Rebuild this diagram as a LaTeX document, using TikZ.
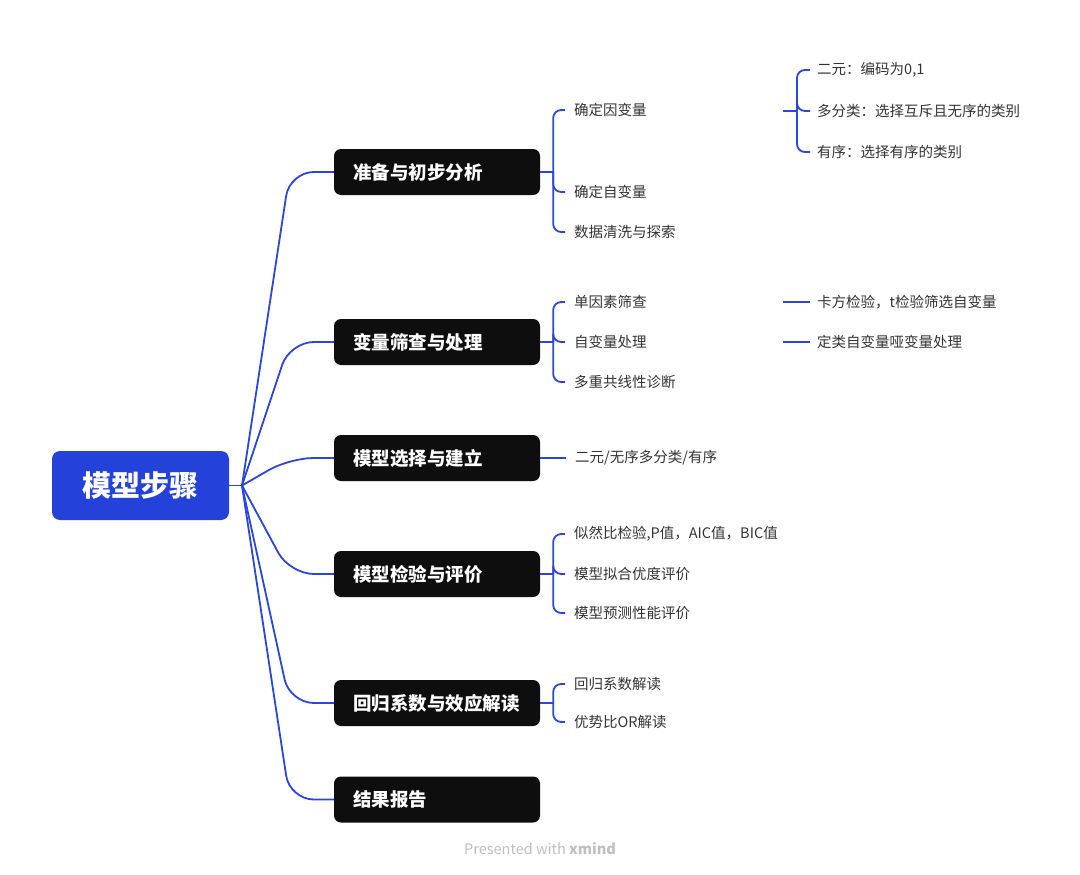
\documentclass[tikz,border=0pt]{standalone}
\usepackage{fontspec}
\setmainfont{Noto Sans CJK SC}
\usepackage{xcolor}
\usetikzlibrary{arrows.meta}
\definecolor{linkblue}{HTML}{2B46DA}
\definecolor{rootblue}{HTML}{2441D9}
\definecolor{topicblack}{HTML}{0E0E0E}
\definecolor{subgray}{HTML}{333333}

\begin{document}
\begin{tikzpicture}[x=1pt,y=-1pt,
	link/.style={draw=linkblue,line width=1.8pt},
	rootbox/.style={fill=rootblue,rounded corners=8pt,minimum width=177pt,minimum height=69pt,text=white,font=\fontsize{29}{32}\selectfont\bfseries},
	topic/.style={fill=topicblack,rounded corners=7pt,minimum width=206pt,minimum height=46pt,inner xsep=19pt,inner ysep=0pt,text width=168pt,align=left,text=white,font=\fontsize{18.5}{21}\selectfont\bfseries},
	sub/.style={anchor=west,inner xsep=9pt,inner ysep=2pt,text=subgray,font=\fontsize{14.5}{17}\selectfont},
	subsub/.style={sub,inner xsep=7pt}]
	\useasboundingbox (0,0) rectangle (1080,875);
	
	\node[rootbox] (root) at (140.5,485.5){模型步骤};
	\coordinate (hub) at (242,485.5);
	
	\node[topic] (prep) at (437,172){准备与初步分析};
	\node[topic] (screen) at (437,342){变量筛查与处理};
	\node[topic] (select) at (437,458){模型选择与建立};
	\node[topic] (check) at (437,574){模型检验与评价};
	\node[topic] (coef) at (437,703){回归系数与效应解读};
	\node[topic] (report) at (437,799.5){结果报告};
	
	\node[sub] (dv) at (565,110){确定因变量};
	\node[sub] (iv) at (565,192){确定自变量};
	\node[sub] (clean) at (565,232){数据清洗与探索};
	\node[subsub] (bin) at (810,70){二元：编码为0,1};
	\node[subsub] (multi) at (810,111){多分类：选择互斥且无序的类别};
	\node[subsub] (ord) at (810,152){有序：选择有序的类别};
	
	\node[sub] (uni) at (565,302){单因素筛查};
	\node[sub] (ivproc) at (565,342){自变量处理};
	\node[sub] (vif) at (565,382){多重共线性诊断};
	\node[subsub] (chi) at (810,302){卡方检验，t检验筛选自变量};
	\node[subsub] (dummy) at (810,342){定类自变量哑变量处理};
	
	\node[sub] (type) at (566,458){二元/无序多分类/有序};
	
	\node[sub] (lr) at (565,534){似然比检验,P值，AIC值，BIC值};
	\node[sub] (fit) at (565,574){模型拟合优度评价};
	\node[sub] (pred) at (565,613){模型预测性能评价};
	
	\node[sub] (beta) at (565,684){回归系数解读};
	\node[sub] (or) at (565,722){优势比OR解读};
	
	\node[text=black!25,font=\fontsize{14.5}{16}\selectfont] (mark) at (540,849){Presented with \textbf{xmind}};
	
	%edges
	\draw[link] (root.east) -- (hub);
	\foreach \t in {prep,screen,select,check,coef,report}
	\draw[link,rounded corners=24pt] (hub) -- ([xshift=-44pt]\t.west) -- (\t.west);
	
	\draw[link] (prep.east) -- ++(13,0) coordinate (prepfork);
	\foreach \c in {dv,iv,clean}
	\draw[link,rounded corners=8pt] (prepfork) |- (\c.west);
	
	\coordinate (dvtail) at (783,111);
	\draw[link] (dvtail) -- ++(14,0) coordinate (dvfork);
	\foreach \c in {bin,multi,ord}
	\draw[link,rounded corners=8pt] (dvfork) |- (\c.west);
	
	\draw[link] (screen.east) -- ++(13,0) coordinate (screenfork);
	\foreach \c in {uni,ivproc,vif}
	\draw[link,rounded corners=8pt] (screenfork) |- (\c.west);
	
	\coordinate (unitail) at (783,302);
	\coordinate (ivtail) at (783,342);
	\draw[link] (unitail) -- (chi.west);
	\draw[link] (ivtail) -- (dummy.west);
	
	\draw[link] (select.east) -- (type.west);
	
	\draw[link] (check.east) -- ++(13,0) coordinate (checkfork);
	\foreach \c in {lr,fit,pred}
	\draw[link,rounded corners=8pt] (checkfork) |- (\c.west);
	
	\draw[link] (coef.east) -- ++(13,0) coordinate (coeffork);
	\foreach \c in {beta,or}
	\draw[link,rounded corners=8pt] (coeffork) |- (\c.west);
	
\end{tikzpicture}
\end{document}
